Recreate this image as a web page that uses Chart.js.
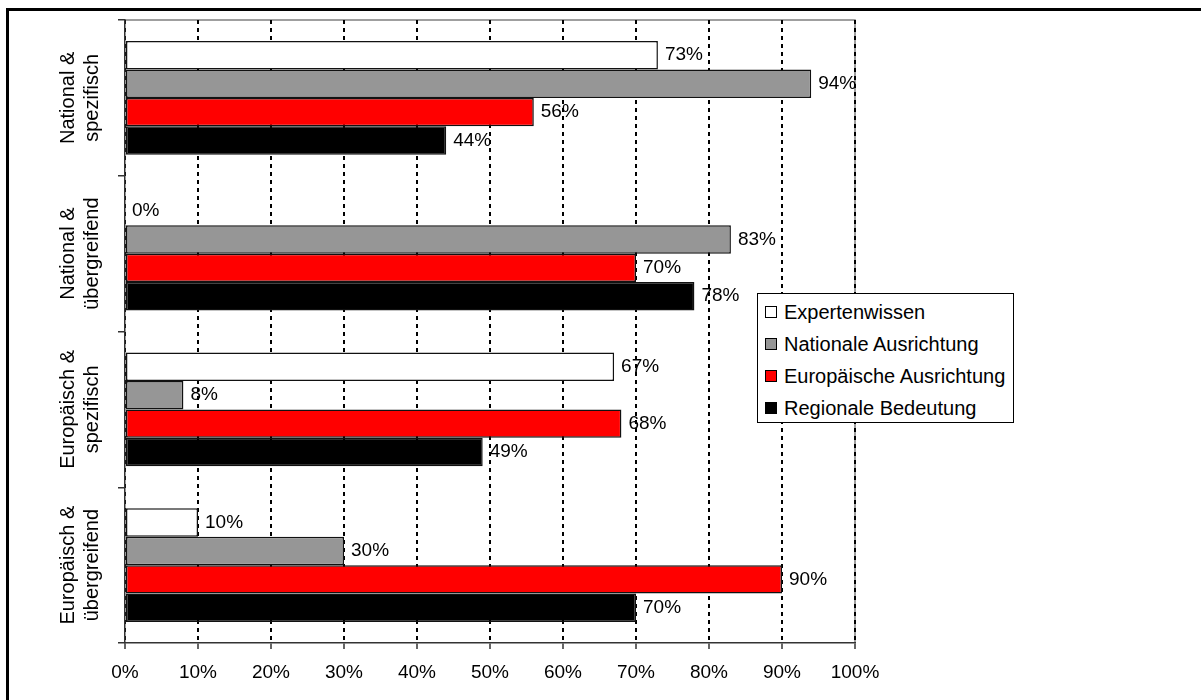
<!DOCTYPE html>
<html>
<head>
<meta charset="utf-8">
<script src="https://cdn.jsdelivr.net/npm/chart.js@4.4.0/dist/chart.umd.min.js"></script>
<style>
  html, body { margin: 0; background: #fff; overflow: hidden; }
  #frame { position: absolute; left: 6px; top: 8px; width: 1300px; height: 800px;
           border-left: 3px solid #000; border-top: 3px solid #000; }
  #c { position: absolute; left: 0; top: 0; }
  #legend { position: absolute; left: 757px; top: 293px; width: 255px; height: 128px;
            border: 1px solid #000; background: #fff;
            font: 20px "Liberation Sans", Arial, sans-serif; color: #000; }
  #legend div { position: absolute; left: 7px; height: 24px; line-height: 24px; white-space: nowrap; }
  #legend span { display: inline-block; width: 10px; height: 10px; border: 1px solid #000;
                 margin-right: 7px; vertical-align: 1px; }
</style>
</head>
<body>
<div id="frame"></div>
<canvas id="c" width="1201" height="700"></canvas>
<div id="legend"></div>
<script>
const categories = [
  ['National &', 'spezifisch'],
  ['National &', 'übergreifend'],
  ['Europäisch &', 'spezifisch'],
  ['Europäisch &', 'übergreifend']
];
const seriesNames = ['Expertenwissen', 'Nationale Ausrichtung', 'Europäische Ausrichtung', 'Regionale Bedeutung'];
const seriesColors = ['#ffffff', '#969696', '#ff0000', '#000000'];
const expertenwissen = [73, 0, 67, 10];
const nationale = [94, 83, 8, 30];
const europaeische = [56, 70, 68, 90];
const regionale = [44, 78, 49, 70];
const xTicks = [0, 10, 20, 30, 40, 50, 60, 70, 80, 90, 100];

const FONT = '"Liberation Sans", Arial, sans-serif';
const values = [expertenwissen, nationale, europaeische, regionale];

// grey frame on top and right of the plot area
const plotFrame = {
  id: 'plotFrame',
  beforeDraw(chart) {
    const {ctx, chartArea: a} = chart;
    ctx.save();
    ctx.strokeStyle = '#808080';
    ctx.lineWidth = 1.5;
    ctx.beginPath();
    ctx.moveTo(a.left, a.top);
    ctx.lineTo(a.right, a.top);
    ctx.lineTo(a.right, a.bottom);
    ctx.stroke();
    ctx.restore();
  }
};

// value labels right of each bar
const valueLabels = {
  id: 'valueLabels',
  afterDatasetsDraw(chart) {
    const ctx = chart.ctx;
    ctx.save();
    ctx.font = '19px ' + FONT;
    ctx.fillStyle = '#000';
    ctx.textBaseline = 'middle';
    ctx.textAlign = 'left';
    chart.data.datasets.forEach((ds, i) => {
      chart.getDatasetMeta(i).data.forEach((bar, j) => {
        ctx.fillText(ds.data[j] + '%', bar.x + 7, bar.y);
      });
    });
    ctx.restore();
  }
};

// rotated two-line category labels
const catLabels = {
  id: 'catLabels',
  afterDraw(chart) {
    const ctx = chart.ctx;
    const y = chart.scales.y;
    ctx.save();
    ctx.font = '20px ' + FONT;
    ctx.fillStyle = '#000';
    ctx.textAlign = 'center';
    ctx.textBaseline = 'middle';
    categories.forEach((lines, i) => {
      ctx.save();
      ctx.translate(80, y.getPixelForValue(i));
      ctx.rotate(-Math.PI / 2);
      ctx.fillText(lines[0], 0, -12);
      ctx.fillText(lines[1], 0, 12);
      ctx.restore();
    });
    ctx.restore();
  }
};

const chart = new Chart(document.getElementById('c'), {
  type: 'bar',
  data: {
    labels: categories,
    datasets: seriesNames.map((name, i) => ({
      label: name,
      data: values[i],
      backgroundColor: seriesColors[i],
      borderColor: '#111',
      borderWidth: 1.5,
      borderSkipped: false,
      barPercentage: 1,
      categoryPercentage: 0.73
    }))
  },
  options: {
    indexAxis: 'y',
    responsive: false,
    animation: false,
    layout: { padding: { left: 0, top: 20, right: 346, bottom: 0 } },
    plugins: { legend: { display: false }, tooltip: { enabled: false } },
    scales: {
      x: {
        min: 0, max: 100,
        afterFit: s => { s.height = 57; },
        afterBuildTicks: s => { s.ticks = xTicks.map(v => ({value: v})); },
        ticks: { color: '#000', font: { size: 19, family: FONT }, padding: 12,
                 callback: v => v + '%' },
        grid: { color: '#000', lineWidth: 2, tickLength: 6, tickColor: '#333', tickWidth: 1.5 },
        border: { color: '#333', width: 1.5, dash: [4, 4] }
      },
      y: {
        afterFit: s => { s.width = 125; },
        ticks: { display: false },
        grid: { drawOnChartArea: false, offset: true, tickLength: 7, color: '#333', lineWidth: 1.5 },
        border: { color: '#333', width: 1.5 }
      }
    }
  },
  plugins: [plotFrame, valueLabels, catLabels]
});

// legend built from the datasets
const legend = document.getElementById('legend');
chart.data.datasets.forEach((ds, i) => {
  const row = document.createElement('div');
  row.style.top = (6 + i * 32) + 'px';
  row.innerHTML = '<span style="background:' + ds.backgroundColor + '"></span>' + ds.label;
  legend.appendChild(row);
});
</script>
</body>
</html>
